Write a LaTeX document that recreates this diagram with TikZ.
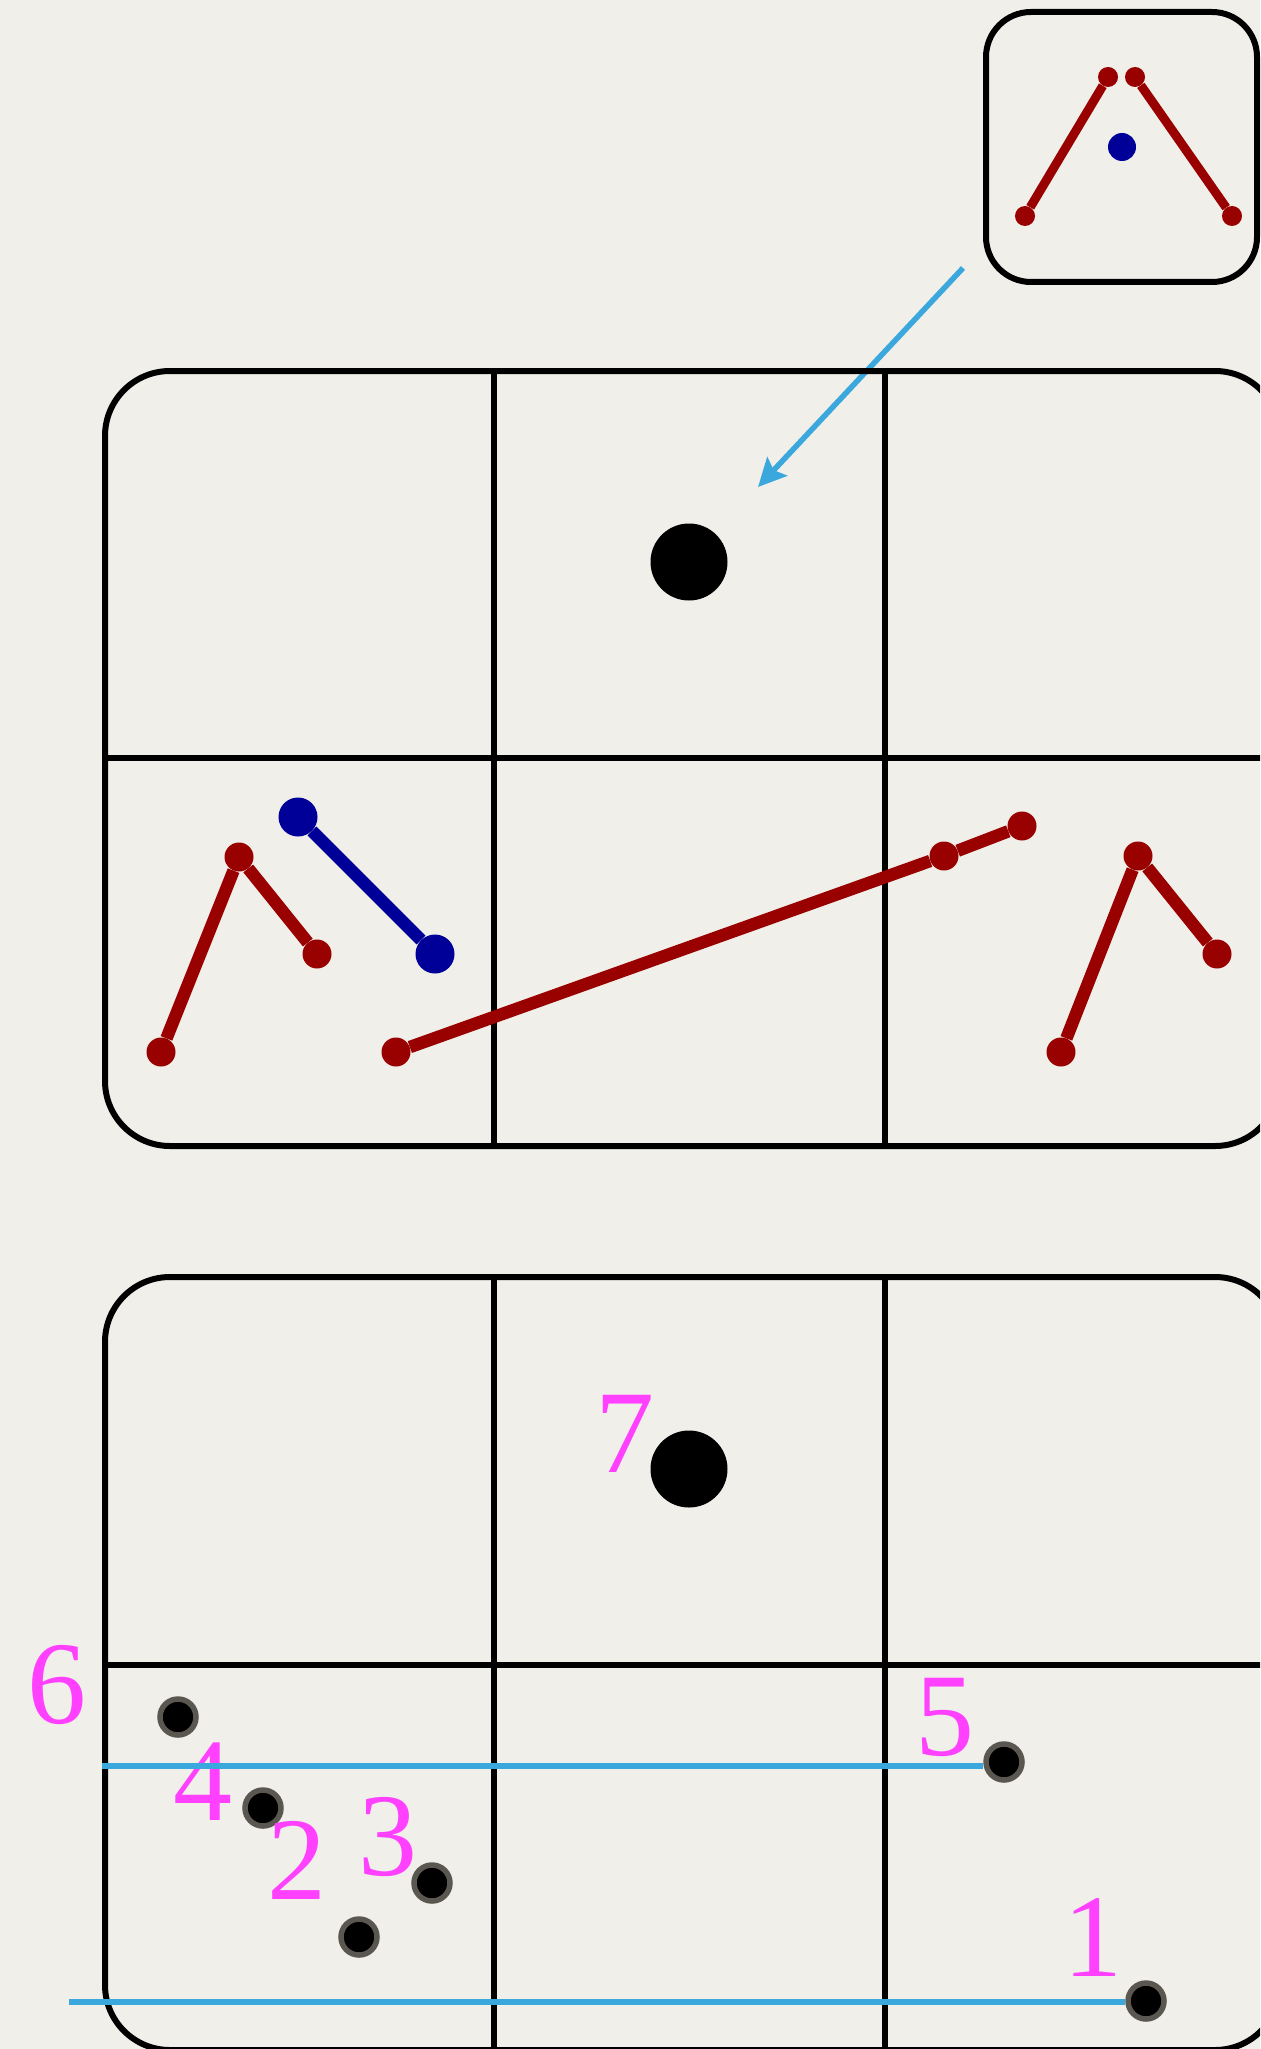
\documentclass[tikz,border=0pt]{standalone}
\usepackage{fontspec}
\setmainfont{Liberation Serif}
\newfontfamily\tagfont{Liberation Serif}
\usetikzlibrary{arrows.meta}

\definecolor{paper}{HTML}{F1EFEA}
\definecolor{segred}{HTML}{990000}
\definecolor{segblue}{HTML}{000099}
\definecolor{guide}{HTML}{3AA8DD}
\definecolor{tagpink}{HTML}{FF40FF}
\definecolor{rim}{HTML}{5A5650}

\tikzset{
  frame/.style={line width=6pt, rounded corners=65pt},
  grid line/.style={line width=6pt},
  rdot/.style={circle, fill=segred, inner sep=0pt, minimum size=#1},
  bdot/.style={circle, fill=segblue, inner sep=0pt, minimum size=#1},
  kdot/.style={circle, fill=black, inner sep=0pt, minimum size=#1},
  pdot/.style={circle, fill=black, draw=rim, line width=5.5pt, inner sep=0pt, minimum size=36pt},
  redseg/.style={segred, line width=#1},
  blueseg/.style={segblue, line width=#1},
  guide line/.style={guide, line width=5.5pt},
  tag/.style={tagpink, font=\tagfont\fontsize{118}{118}\selectfont, inner sep=0pt}
}

\begin{document}
\begin{tikzpicture}[x=1pt, y=-1pt]
    \useasboundingbox[fill=paper] (0,0) rectangle (1260,2049);
    \clip (0,0) rectangle (1260,2049);

    % Riquadro piccolo in alto a destra
    \draw[line width=6pt, rounded corners=45pt] (986,12) rectangle (1257,282);
    \node[rdot=20pt] (ta) at (1025,216) {};
    \node[rdot=20pt] (tb) at (1108,77) {};
    \node[rdot=20pt] (tc) at (1135,77) {};
    \node[rdot=20pt] (td) at (1232,216) {};
    \node[bdot=28pt] (tq) at (1122,147) {};
    \draw[redseg=9pt] (ta) -- (tb);
    \draw[redseg=9pt] (tc) -- (td);

    % Freccia verso la cella centrale
    \coordinate (from) at (963,268);
    \coordinate (to) at (758,487);
    \draw[guide, line width=5.5pt, -{Stealth[length=28pt, width=27pt, inset=5pt]}] (from) -- (to);

    % Griglia superiore
    \draw[frame] (105,371) rectangle (1280,1146);
    \draw[grid line] (494,371) -- (494,1146);
    \draw[grid line] (885,371) -- (885,1146);
    \draw[grid line] (105,758) -- (1280,758);
    \node[kdot=77pt] (q) at (689,562) {};

    % Spezzate nella riga centrale
    \node[rdot=29pt] (la) at (161,1052) {};
    \node[rdot=29pt] (lb) at (239,857) {};
    \node[rdot=29pt] (lc) at (317,954) {};
    \draw[redseg=12.5pt] (la) -- (lb) -- (lc);

    \node[bdot=39pt] (ba) at (298,817) {};
    \node[bdot=39pt] (bb) at (435,954) {};
    \draw[blueseg=12.5pt] (ba) -- (bb);

    \node[rdot=29pt] (ma) at (396,1052) {};
    \node[rdot=29pt] (mb) at (944,856) {};
    \node[rdot=29pt] (mc) at (1022,826) {};
    \draw[redseg=12.5pt] (ma) -- (mb) -- (mc);

    \node[rdot=29pt] (ra) at (1061,1052) {};
    \node[rdot=29pt] (rb) at (1138,856) {};
    \node[rdot=29pt] (rc) at (1217,954) {};
    \draw[redseg=12.5pt] (ra) -- (rb) -- (rc);

    % Griglia inferiore
    \draw[frame] (105,1277) rectangle (1280,2050);
    \draw[grid line] (494,1277) -- (494,2050);
    \draw[grid line] (885,1277) -- (885,2050);
    \draw[grid line] (105,1665) -- (1280,1665);
    \node[kdot=77pt] (p7) at (689,1469) {};
    \node[tag] at (625,1434) {7};

    % Punti numerati
    \node[pdot] (p6) at (178,1717) {};
    \node[pdot] (p4) at (263,1808) {};
    \node[pdot] (p3) at (432,1883) {};
    \node[pdot] (p2) at (359,1937) {};
    \node[pdot] (p5) at (1004,1762) {};
    \node[pdot] (p1) at (1146,2001) {};

    \node[tag] at (57,1685) {6};
    \node[tag] at (203,1782) {4};
    \node[tag] at (297,1860) {2};
    \node[tag] at (388,1837) {3};
    \node[tag] at (945,1717) {5};
    \node[tag] at (1093,1938) {1};

    % Linee orizzontali di riferimento
    \coordinate (g5) at (102,1766);
    \coordinate (g1) at (69,2002);
    \draw[guide line] (g5) -- (p5.west |- g5);
    \draw[guide line] (g1) -- (p1.west |- g1);
\end{tikzpicture}
\end{document}
